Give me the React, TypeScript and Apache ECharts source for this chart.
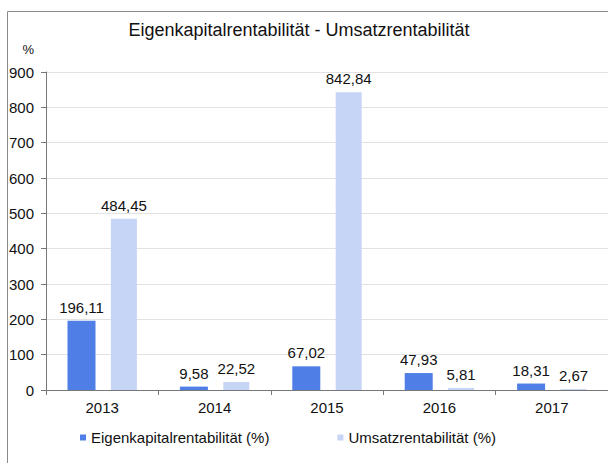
import React, { useEffect, useRef } from "react";
import * as echarts from "echarts";

const categories = ["2013", "2014", "2015", "2016", "2017"];
const eigenkapital = [196.11, 9.58, 67.02, 47.93, 18.31];
const umsatz = [484.45, 22.52, 842.84, 5.81, 2.67];
const seriesNames = ["Eigenkapitalrentabilität (%)", "Umsatzrentabilität (%)"];
const titleText = "Eigenkapitalrentabilität - Umsatzrentabilität";

const fmt = (v: number) => v.toFixed(2).replace(".", ",");

export default function App() {
  const ref = useRef<HTMLDivElement>(null);
  useEffect(() => {
    const chart = echarts.init(ref.current!, null, { renderer: "svg" });
    const font = "Liberation Sans, Arial, sans-serif";
    chart.setOption({
      animation: false,
      backgroundColor: "#ffffff",
      textStyle: { fontFamily: font },
      title: {
        text: titleText,
        left: 294,
        textAlign: "center",
        top: 16,
        textStyle: { fontSize: 18, fontWeight: "normal", color: "#111", fontFamily: font },
      },
      graphic: [
        {
          type: "rect",
          shape: { x: 7.5, y: 11.5, width: 620, height: 470 },
          style: { fill: "none", stroke: "#8a8a8a", lineWidth: 1 },
          silent: true,
        },
      ],
      legend: {
        bottom: 13,
        left: 75,
        itemGap: 68,
        itemWidth: 6,
        itemHeight: 6,
        icon: "rect",
        textStyle: { fontSize: 15, color: "#111", fontFamily: font },
        data: seriesNames,
      },
      grid: { left: 46, right: 0, top: 72, bottom: 73, containLabel: false },
      xAxis: {
        type: "category",
        data: categories,
        axisLine: { lineStyle: { color: "#777" } },
        axisTick: { show: true, length: 5, lineStyle: { color: "#777" } },
        axisLabel: { fontSize: 15, color: "#111", margin: 10, fontFamily: font },
      },
      yAxis: {
        type: "value",
        min: 0,
        max: 900,
        interval: 100,
        name: "%",
        nameLocation: "end",
        nameGap: 16,
        nameTextStyle: { fontSize: 13, color: "#111", align: "right", padding: [0, 12, 0, 0] },
        axisLine: { show: true, lineStyle: { color: "#777" } },
        axisTick: { show: true, length: 5, lineStyle: { color: "#777" } },
        axisLabel: { fontSize: 15, color: "#111", margin: 12, fontFamily: font },
        splitLine: { lineStyle: { color: "#e2e2e2" } },
      },
      series: [
        {
          name: seriesNames[0],
          type: "bar",
          data: eigenkapital,
          barWidth: 28,
          barGap: "55%",
          itemStyle: { color: "#4f7fe6" },
          label: {
            show: true,
            position: "top",
            distance: 6,
            fontSize: 15,
            color: "#111",
            fontFamily: font,
            formatter: (p: any) => fmt(p.value),
          },
        },
        {
          name: seriesNames[1],
          type: "bar",
          data: umsatz,
          barWidth: 26,
          itemStyle: { color: "#c6d4f5" },
          label: {
            show: true,
            position: "top",
            distance: 6,
            fontSize: 15,
            color: "#111",
            fontFamily: font,
            formatter: (p: any) => fmt(p.value),
          },
        },
      ],
    });
    return () => chart.dispose();
  }, []);
  return <div ref={ref} style={{ width: 608, height: 463, position: "absolute", left: 0, top: 0 }} />;
}
